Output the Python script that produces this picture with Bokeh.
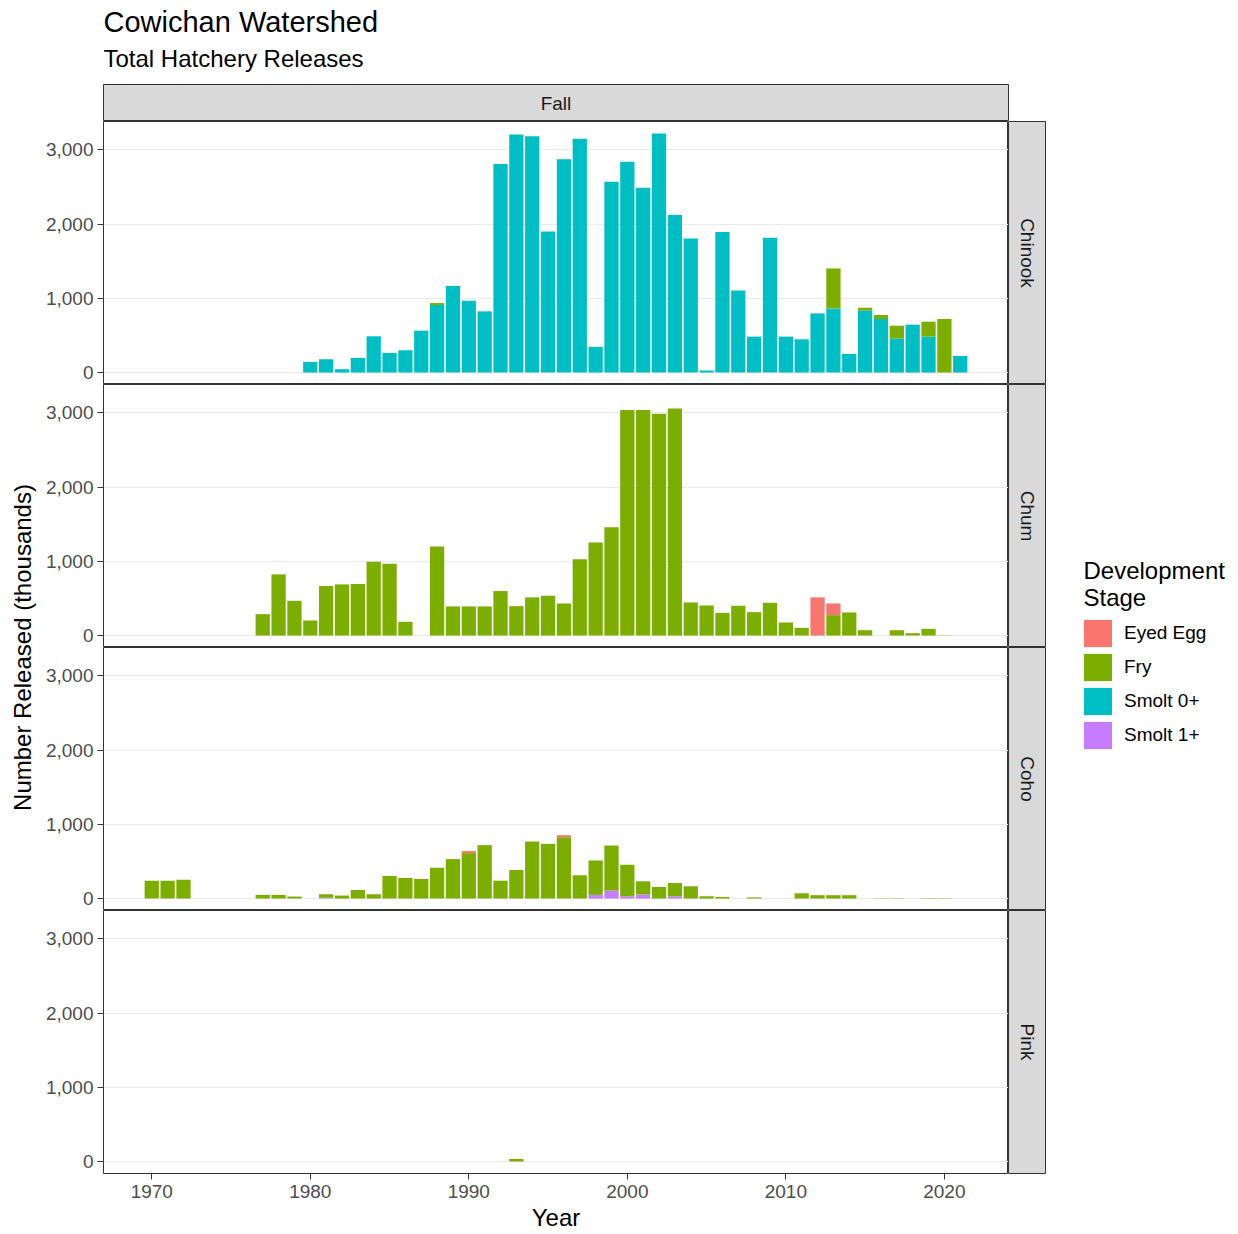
import math
from bokeh.plotting import figure
from bokeh.models import (ColumnDataSource, Range1d, FixedTicker, NumeralTickFormatter,
                          Legend, LegendItem)
from bokeh.layouts import row, column
from bokeh.core.properties import value
from bokeh.embed import file_html
from bokeh.resources import INLINE

# ---------------- data (thousands released) ----------------
stages = ["Eyed Egg", "Fry", "Smolt 0+", "Smolt 1+"]
stage_colors = ["#F8766D", "#7CAE00", "#00BFC4", "#C77CFF"]
species = ["Chinook", "Chum", "Coho", "Pink"]

chinook_years = list(range(1980, 2022))
chinook_smolt0 = [143, 179, 45, 197, 488, 264, 300, 564, 909, 1164,
                  967, 824, 2808, 3206, 3184, 1899, 2871, 3148, 345, 2571,
                  2839, 2490, 3220, 2123, 1805, 27, 1894, 1106, 484, 1814,
                  484, 448, 797, 864, 251, 837, 721, 457, 645, 484,
                  0, 224]
chinook_fry = [0, 0, 0, 0, 0, 0, 0, 0, 27, 0,
               0, 0, 0, 0, 0, 0, 0, 0, 0, 0,
               0, 0, 0, 0, 0, 0, 0, 0, 0, 0,
               0, 0, 0, 538, 0, 36, 54, 174, 0, 201,
               721, 0]

chum_years = list(range(1977, 2021))
chum_fry = [288, 824, 468, 203, 667, 689, 694, 995, 968, 185,
            0, 1198, 392, 392, 392, 599, 396, 514, 536, 432,
            1027, 1252, 1459, 3036, 3036, 2986, 3059, 446, 405, 306,
            401, 315, 441, 176, 104, 0, 275, 311, 72, 0,
            72, 32, 90, 4]
chum_egg = [0, 0, 0, 0, 0, 0, 0, 0, 0, 0,
            0, 0, 0, 0, 0, 0, 0, 0, 0, 0,
            0, 0, 0, 0, 0, 0, 0, 0, 0, 0,
            0, 0, 0, 0, 0, 514, 157, 0, 0, 0,
            0, 0, 0, 0]

coho_years = [1970, 1971, 1972, 1977, 1978, 1979,
              1981, 1982, 1983, 1984, 1985, 1986, 1987, 1988, 1989, 1990,
              1991, 1992, 1993, 1994, 1995, 1996,
              1997, 1998, 1999, 2000, 2001, 2002, 2003, 2004, 2005, 2006,
              2008, 2011, 2012, 2013, 2014, 2016, 2017, 2019, 2020]
coho_fry = [241, 241, 254, 49, 49, 27,
            48, 40, 116, 58, 304, 277, 263, 415, 531, 612,
            719, 241, 384, 768, 737, 826,
            313, 463, 607, 425, 178, 156, 180, 165, 31, 22,
            15, 71, 45, 45, 45, 4, 4, 5, 5]
coho_egg = [0, 0, 0, 0, 0, 0,
            0, 0, 0, 0, 0, 0, 0, 0, 0, 27,
            0, 0, 0, 0, 0, 27,
            0, 0, 0, 0, 0, 0, 0, 0, 0, 0,
            0, 0, 0, 0, 0, 0, 0, 0, 0]
coho_smolt1 = [0, 0, 0, 0, 0, 0,
               10, 0, 0, 0, 0, 0, 0, 0, 0, 0,
               0, 0, 0, 0, 0, 0,
               0, 50, 107, 30, 54, 0, 30, 0, 0, 0,
               0, 0, 0, 0, 0, 0, 0, 0, 0]

pink_years = [1993]
pink_fry = [35]

x_ticks = [1970, 1980, 1990, 2000, 2010, 2020]
y_ticks = [0, 1000, 2000, 3000]

# ---------------- sources ----------------
def make_src(years, egg=None, fry=None, smolt0=None, smolt1=None):
    n = len(years)
    z = [0] * n
    return ColumnDataSource(dict(year=years,
                                 egg=egg if egg else z,
                                 fry=fry if fry else z,
                                 smolt0=smolt0 if smolt0 else z,
                                 smolt1=smolt1 if smolt1 else z))

sources = [
    make_src(chinook_years, fry=chinook_fry, smolt0=chinook_smolt0),
    make_src(chum_years, egg=chum_egg, fry=chum_fry),
    make_src(coho_years, egg=coho_egg, fry=coho_fry, smolt1=coho_smolt1),
    make_src(pink_years, fry=pink_fry),
]

# ranges like ggplot (5% expansion)
all_years = chinook_years + chum_years + coho_years + pink_years
x0, x1 = min(all_years) - 0.45, max(all_years) + 0.45
xpad = 0.05 * (x1 - x0)
totals = []
for s in sources:
    d = s.data
    totals += [a + b + c + e for a, b, c, e in zip(d["egg"], d["fry"], d["smolt0"], d["smolt1"])]
ymax = max(totals)
ypad = 0.05 * ymax

FONT = "Liberation Sans"
LEFT_W = 40
COL_W = 1006
RIGHT_W = 192
PANEL_L = 63
FRAME_W = 905
STRIP_W = 38
PANEL_H = 263
XAX_H = 61
TOTAL_H = 1234
HEAD_H = 84

def blank(width, height, xr, yr, **kw):
    f = figure(width=width, height=height, x_range=xr, y_range=yr, title=None,
               output_backend="svg", toolbar_location=None,
               x_axis_location=None, y_axis_location=None,
               min_border_left=kw.get("l", 0), min_border_right=kw.get("r", 0),
               min_border_top=kw.get("t", 0), min_border_bottom=kw.get("b", 0),
               background_fill_color=kw.get("bg", "white"), border_fill_color="white",
               outline_line_color=kw.get("outline", None))
    f.grid.visible = False
    return f

# ---------------- left: y axis title ----------------
L = blank(LEFT_W, TOTAL_H, Range1d(0, LEFT_W), Range1d(TOTAL_H, 0))
L.text(x=[22], y=[647], text=["Number Released (thousands)"], angle=math.pi / 2,
       text_align="center", text_baseline="middle", text_font=value(FONT),
       text_font_size="24px", text_color="#000000")

# ---------------- title block (frame aligned with panels) ----------------
T = blank(COL_W, HEAD_H, Range1d(0, FRAME_W), Range1d(HEAD_H, 0), l=PANEL_L, r=STRIP_W)
T.text(x=[0], y=[21], text=["Cowichan Watershed"], text_align="left",
       text_baseline="middle", text_font=value(FONT), text_font_size="29px",
       text_color="#000000")
T.text(x=[0], y=[58], text=["Total Hatchery Releases"], text_align="left",
       text_baseline="middle", text_font=value(FONT), text_font_size="24px",
       text_color="#000000")

# ---------------- top strip ----------------
S = blank(COL_W, 37, Range1d(0, 1), Range1d(0, 1), l=PANEL_L, r=STRIP_W,
          bg="#D9D9D9", outline="#333333")
S.text(x=[0.5], y=[0.5], text=["Fall"], text_align="center", text_baseline="middle",
       text_font=value(FONT), text_font_size="19px", text_color="#1A1A1A")

# ---------------- panels ----------------
rows = []
for i, (sp, src) in enumerate(zip(species, sources)):
    last = i == len(species) - 1
    h = PANEL_H + (XAX_H if last else 0)
    p = figure(width=PANEL_L + FRAME_W, height=h,
               x_range=Range1d(x0 - xpad, x1 + xpad),
               y_range=Range1d(-ypad, ymax + ypad),
               output_backend="svg", toolbar_location=None,
               x_axis_location="below" if last else None,
               min_border_left=PANEL_L, min_border_right=0, min_border_top=0,
               min_border_bottom=XAX_H if last else 0,
               background_fill_color="white", border_fill_color="white",
               outline_line_color="#333333", outline_line_width=1)
    p.vbar_stack(["smolt1", "smolt0", "fry", "egg"], x="year", width=0.9, source=src,
                 fill_color=[stage_colors[3], stage_colors[2], stage_colors[1], stage_colors[0]],
                 line_color=None)
    p.yaxis.ticker = FixedTicker(ticks=y_ticks)
    p.yaxis.formatter = NumeralTickFormatter(format="0,0")
    p.yaxis.major_label_text_font = FONT
    p.yaxis.major_label_text_font_size = "19px"
    p.yaxis.major_label_text_color = "#4D4D4D"
    p.yaxis.axis_line_color = None
    p.yaxis.major_tick_line_color = "#333333"
    p.yaxis.major_tick_out = 6
    p.yaxis.major_tick_in = 0
    p.yaxis.minor_tick_line_color = None
    p.yaxis.major_label_standoff = 4
    p.ygrid.ticker = FixedTicker(ticks=y_ticks)
    p.ygrid.grid_line_color = "#EBEBEB"
    p.xgrid.grid_line_color = None
    if last:
        p.xaxis.ticker = FixedTicker(ticks=x_ticks)
        p.xaxis.major_label_text_font = FONT
        p.xaxis.major_label_text_font_size = "19px"
        p.xaxis.major_label_text_color = "#4D4D4D"
        p.xaxis.axis_line_color = None
        p.xaxis.major_tick_line_color = "#333333"
        p.xaxis.major_tick_out = 6
        p.xaxis.major_tick_in = 0
        p.xaxis.minor_tick_line_color = None
        p.xaxis.major_label_standoff = 5
        p.xaxis.axis_label = "Year"
        p.xaxis.axis_label_text_font = FONT
        p.xaxis.axis_label_text_font_size = "24px"
        p.xaxis.axis_label_text_font_style = "normal"
        p.xaxis.axis_label_text_color = "#000000"
        p.xaxis.axis_label_standoff = 3
    st = blank(STRIP_W, h, Range1d(0, 1), Range1d(0, 1), b=XAX_H if last else 0,
               bg="#D9D9D9", outline="#333333")
    st.text(x=[0.5], y=[0.5], text=[sp], angle=-math.pi / 2, text_align="center",
            text_baseline="middle", text_font=value(FONT), text_font_size="19px",
            text_color="#1A1A1A")
    rows.append(row(p, st))

# ---------------- legend ----------------
R = blank(RIGHT_W, TOTAL_H, Range1d(0, RIGHT_W), Range1d(TOTAL_H, 0))
R.text(x=[37, 37], y=[570, 597], text=["Development", "Stage"], text_align="left",
       text_baseline="middle", text_font=value(FONT), text_font_size="24px",
       text_color="#000000")
items = []
for lab, col in zip(stages, stage_colors):
    # zero-size proxy glyph, only used to draw the legend key
    r = R.vbar(x=[0], top=[0], bottom=[0], width=0, fill_color=col, line_color=None)
    items.append(LegendItem(label=lab, renderers=[r], index=0))
legend = Legend(items=items, location=(34, 482), orientation="vertical",
                glyph_width=35, glyph_height=34, spacing=-4, padding=0, margin=0,
                label_standoff=9, label_height=34,
                label_text_font=FONT, label_text_font_size="19px",
                label_text_color="#000000", label_text_baseline="middle",
                border_line_color=None, background_fill_alpha=0)
R.add_layout(legend)

layout = row(L, column(T, S, *rows), R)
open("out.html", "w").write(file_html(layout, INLINE))
